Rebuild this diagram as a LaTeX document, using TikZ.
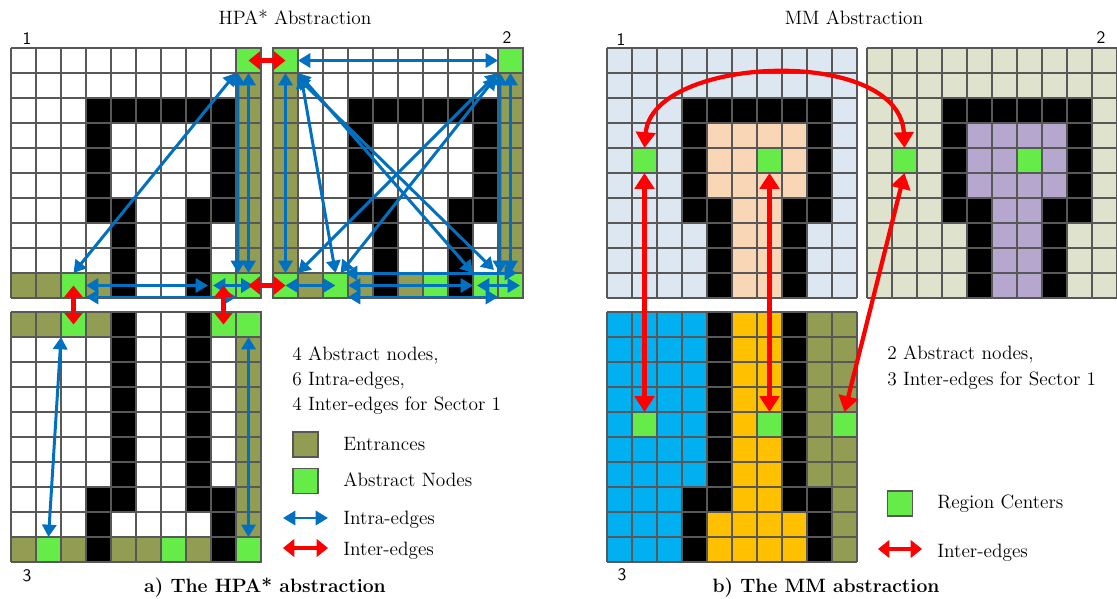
\documentclass[tikz,border=0pt]{standalone}
\usepackage{tikz}
\usetikzlibrary{arrows.meta}
\definecolor{entryolive}{RGB}{146,156,83}
\definecolor{nodegreen}{RGB}{102,236,72}
\definecolor{intrablue}{RGB}{0,112,192}
\definecolor{interred}{RGB}{255,0,0}
\definecolor{gridgray}{RGB}{88,88,88}
\definecolor{paleblue}{RGB}{221,231,242}
\definecolor{peach}{RGB}{248,214,182}
\definecolor{paleolive}{RGB}{223,227,205}
\definecolor{lavender}{RGB}{181,167,206}
\definecolor{skyblue}{RGB}{0,176,240}
\definecolor{amber}{RGB}{255,192,0}
\tikzset{
  cellgrid/.style={gridgray, line width=0.6pt},
  absnode/.style={rectangle, draw=gridgray, line width=0.6pt, fill=nodegreen,
              minimum size=0.5cm, inner sep=0pt, outer sep=0pt},
  intra/.style={{Triangle[length=7pt,width=8pt]}-{Triangle[length=7pt,width=8pt]}, intrablue, line width=1.7pt},
  inter/.style={{Triangle[length=6.5pt,width=10pt]}-{Triangle[length=6.5pt,width=10pt]}, interred, line width=2.3pt},
  interbig/.style={{Triangle[length=9pt,width=11pt]}-{Triangle[length=9pt,width=11pt]}, interred, line width=2.4pt},
  lbl/.style={font=\fontsize{11}{13}\selectfont, anchor=base west, inner sep=0pt},
  ttl/.style={font=\fontsize{11}{13}\selectfont, anchor=base, inner sep=0pt},
  caption/.style={font=\bfseries\fontsize{11}{13}\selectfont, anchor=base, inner sep=0pt},
  numlbl/.style={font=\sffamily\fontsize{10}{12}\selectfont, inner sep=0pt},
}
\newcommand{\wallsab}{3/2,4/2,5/2,6/2,7/2,8/2,3/3,8/3,3/4,8/4,3/5,8/5,3/6,4/6,7/6,8/6,4/7,7/7,4/8,7/8,4/9,7/9}
\newcommand{\wallsc}{4/0,7/0,4/1,7/1,4/2,7/2,4/3,7/3,4/4,7/4,4/5,7/5,4/6,7/6,3/7,4/7,7/7,8/7,3/8,8/8,3/9,8/9}
\newcommand{\cellfill}[3]{\fill[#1] (#2*25,#3*25) rectangle ++(25,25);}
\newcommand{\gridlines}{\foreach \i in {0,...,10} {\draw[cellgrid] (\i*25,0) -- (\i*25,250); \draw[cellgrid] (0,\i*25) -- (250,\i*25);}}

\begin{document}
\begin{tikzpicture}[x=0.02cm, y=-0.02cm]
  \useasboundingbox (0,0) rectangle (1117,599);

  \begin{scope}[shift={(11,48)}]
    \fill[white] (0,0) rectangle (250,250);
    \foreach \r in {1,...,8} {\cellfill{entryolive}{9}{\r}}
    \foreach \c in {0,1,3} {\cellfill{entryolive}{\c}{9}}
    \foreach \c/\r in \wallsab {\cellfill{black}{\c}{\r}}
    \gridlines
    \node[absnode] (a1) at (237.5,12.5) {};
    \node[absnode] (b1) at (62.5,237.5) {};
    \node[absnode] (c1) at (212.5,237.5) {};
    \node[absnode] (d1) at (237.5,237.5) {};
  \end{scope}

  \begin{scope}[shift={(273,48)}]
    \fill[white] (0,0) rectangle (250,250);
    \foreach \r in {1,...,8} {\cellfill{entryolive}{0}{\r} \cellfill{entryolive}{9}{\r}}
    \foreach \c in {1,3,5} {\cellfill{entryolive}{\c}{9}}
    \foreach \c/\r in \wallsab {\cellfill{black}{\c}{\r}}
    \gridlines
    \node[absnode] (p2) at (12.5,12.5) {};
    \node[absnode] (q2) at (237.5,12.5) {};
    \node[absnode] (r2) at (12.5,237.5) {};
    \node[absnode] (s2) at (62.5,237.5) {};
    \node[absnode] (t2) at (162.5,237.5) {};
    \node[absnode] (u2) at (212.5,237.5) {};
    \node[absnode] (v2) at (237.5,237.5) {};
  \end{scope}

  \begin{scope}[shift={(11,312)}]
    \fill[white] (0,0) rectangle (250,250);
    \foreach \c in {0,1,3} {\cellfill{entryolive}{\c}{0}}
    \foreach \r in {1,...,8} {\cellfill{entryolive}{9}{\r}}
    \foreach \c in {0,2,4,5,7} {\cellfill{entryolive}{\c}{9}}
    \foreach \c/\r in \wallsc {\cellfill{black}{\c}{\r}}
    \gridlines
    \node[absnode] (e3) at (62.5,12.5) {};
    \node[absnode] (f3) at (212.5,12.5) {};
    \node[absnode] (g3) at (237.5,12.5) {};
    \node[absnode] (h3) at (37.5,237.5) {};
    \node[absnode] (i3) at (162.5,237.5) {};
    \node[absnode] (j3) at (237.5,237.5) {};
  \end{scope}

  \begin{scope}[shift={(607,48)}]
    \fill[paleblue] (0,0) rectangle (250,250);
    \fill[peach] (100,75) rectangle (200,150);
    \fill[peach] (125,150) rectangle (175,250);
    \foreach \c/\r in \wallsab {\cellfill{black}{\c}{\r}}
    \gridlines
    \node[absnode] (m1) at (37.5,112.5) {};
    \node[absnode] (m2) at (162.5,112.5) {};
  \end{scope}

  \begin{scope}[shift={(867,48)}]
    \fill[paleolive] (0,0) rectangle (250,250);
    \fill[lavender] (100,75) rectangle (200,150);
    \fill[lavender] (125,150) rectangle (175,250);
    \foreach \c/\r in \wallsab {\cellfill{black}{\c}{\r}}
    \gridlines
    \node[absnode] (n1) at (37.5,112.5) {};
    \node[absnode] (n2) at (162.5,112.5) {};
  \end{scope}

  \begin{scope}[shift={(607,312)}]
    \fill[skyblue] (0,0) rectangle (100,250);
    \fill[amber] (100,0) rectangle (200,250);
    \fill[entryolive] (200,0) rectangle (250,250);
    \foreach \c/\r in \wallsc {\cellfill{black}{\c}{\r}}
    \gridlines
    \node[absnode] (k1) at (37.5,112.5) {};
    \node[absnode] (k2) at (162.5,112.5) {};
    \node[absnode] (k3) at (237.5,112.5) {};
  \end{scope}

  \draw[intra] (a1.south west) -- (b1.north);
  \draw[intra] ([shift={(2,0)}]a1.south west) -- ([shift={(2,0)}]c1.north east);
  \draw[intra] (a1.south) -- (d1.north);
  \draw[intra] (b1.east) -- ([shift={(-3,0)}]c1.west);
  \draw[intra] ([shift={(2,0)}]c1.west) -- ([shift={(5,0)}]d1.center);
  \draw[intra] ([shift={(0,-1)}]b1.south east) -- ([shift={(-12,-1)}]d1.south);

  \draw[intra] (p2.east) -- (q2.west);
  \draw[intra] (p2.south) -- (r2.north);
  \draw[intra] ([shift={(2,0)}]q2.south west) -- ([shift={(2,0)}]u2.north east);
  \draw[intra] (q2.south) -- (v2.north);
  \draw[intra] ([shift={(3,3)}]p2.south east) -- (s2.north);
  \draw[intra] (p2.south east) -- (u2.north west);
  \draw[intra] ([shift={(-1,4)}]p2.south east) -- ([shift={(-4,-3)}]v2.north west);
  \draw[intra] (q2.south west) -- (r2.north east);
  \draw[intra] ([shift={(-2,4)}]q2.south west) -- ([shift={(5,0)}]s2.north);
  \draw[intra] (r2.center) -- (s2.center);
  \draw[intra] (s2.east) -- (u2.west);
  \draw[intra] ([shift={(4,0)}]u2.west) -- ([shift={(-3,0)}]v2.east);
  \draw[intra] ([shift={(0,-1)}]s2.south east) -- ([shift={(0,-1)}]v2.south west);
  \draw[intra] ([shift={(-3,0)}]s2.north east) -- ([shift={(-6,0)}]v2.north east);

  \draw[intra] (e3.south west) -- (h3.north);
  \draw[intra] (g3.south) -- (j3.north);

  \draw[inter] (a1.center) -- (p2.center);
  \draw[inter] (d1.center) -- (r2.center);
  \draw[inter] (b1.center) -- (e3.center);
  \draw[inter] (c1.center) -- (f3.center);

  \draw[interbig] (m1.north) .. controls (652,55) and (900,45) .. (n1.north);
  \draw[interbig] (m1.south) -- (k1.north);
  \draw[interbig] (m2.south) -- (k2.north);
  \draw[interbig] (n1.south) -- (k3.north);

  \node[ttl] (htitle) at (295,24) {HPA* Abstraction};
  \node[ttl] (mtitle) at (854,24) {MM Abstraction};
  \node[numlbl] (hnum1) at (27,39) {1};
  \node[numlbl] (hnum2) at (507,38) {2};
  \node[numlbl] (hnum3) at (27,576) {3};
  \node[numlbl] (mnum1) at (621,40) {1};
  \node[numlbl] (mnum2) at (1101,38) {2};
  \node[numlbl] (mnum3) at (622,575) {3};

  \node[lbl] (hcount1) at (292,360) {4 Abstract nodes,};
  \node[lbl] (hcount2) at (292,385) {6 Intra-edges,};
  \node[lbl] (hcount3) at (292,410) {4 Inter-edges for Sector 1};
  \node[absnode, fill=entryolive] (keyent) at (305.5,444.5) {};
  \node[lbl] (keyenttxt) at (343,450) {Entrances};
  \node[absnode] (keyabs) at (305.5,481) {};
  \node[lbl] (keyabstxt) at (343,486) {Abstract Nodes};
  \coordinate (keyintraA) at (283,518);
  \coordinate (keyintraB) at (328,518);
  \draw[intra] (keyintraA) -- (keyintraB);
  \node[lbl] (keyintratxt) at (343,524) {Intra-edges};
  \coordinate (keyinterA) at (283,548);
  \coordinate (keyinterB) at (328,548);
  \draw[inter] (keyinterA) -- (keyinterB);
  \node[lbl] (keyintertxt) at (343,555) {Inter-edges};

  \node[lbl] (mcount1) at (887,359) {2 Abstract nodes,};
  \node[lbl] (mcount2) at (887,385) {3 Inter-edges for Sector 1};
  \node[absnode] (keyreg) at (900,503.5) {};
  \node[lbl] (keyregtxt) at (937,508) {Region Centers};
  \coordinate (keymidA) at (878,549);
  \coordinate (keymidB) at (922,549);
  \draw[inter] (keymidA) -- (keymidB);
  \node[lbl] (keymidtxt) at (937,557) {Inter-edges};

  \node[caption] (hcap) at (265,592) {a) The HPA* abstraction};
  \node[caption] (mcap) at (826,592) {b) The MM abstraction};
\end{tikzpicture}
\end{document}
